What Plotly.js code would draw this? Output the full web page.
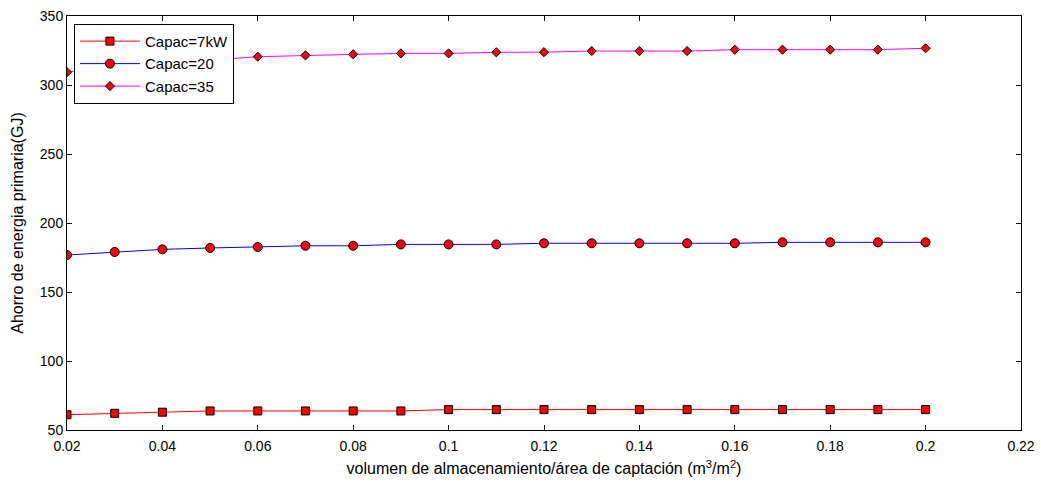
<!DOCTYPE html>
<html>
<head>
<meta charset="utf-8">
<script src="https://cdn.plot.ly/plotly-3.0.1.min.js"></script>
<style>html,body{margin:0;padding:0;background:#fff}#chart{width:1041px;height:483px}</style>
</head>
<body>
<div id="chart"></div>
<script>
const xValues = [0.02,0.03,0.04,0.05,0.06,0.07,0.08,0.09,0.10,0.11,0.12,0.13,0.14,0.15,0.16,0.17,0.18,0.19,0.20];
const capac7 = [61.1,62.1,62.9,63.8,63.8,63.8,63.8,63.8,64.8,64.8,64.8,64.8,64.8,64.8,64.8,64.8,64.8,64.8,64.8];
const capac20 = [176.8,179.0,180.9,181.9,182.6,183.5,183.5,184.5,184.5,184.5,185.3,185.3,185.3,185.3,185.3,186.0,186.0,186.0,186.0];
const capac35 = [309.3,313.5,316.5,318.0,320.5,321.5,322.2,322.9,322.9,323.7,323.8,324.6,324.6,324.6,325.6,325.6,325.6,325.6,326.6];
const seriesNames = ['Capac=7kW','Capac=20','Capac=35'];
const xTicks = [0.02,0.04,0.06,0.08,0.1,0.12,0.14,0.16,0.18,0.2,0.22];
const xTickText = ['0.02','0.04','0.06','0.08','0.1','0.12','0.14','0.16','0.18','0.2','0.22'];
const yTicks = [50,100,150,200,250,300,350];

const font = 'Liberation Sans, Arial, sans-serif';
const traces = [
  {x: xValues, y: capac7, name: seriesNames[0], mode: 'lines+markers',
   line: {color: '#ff0000', width: 1},
   marker: {symbol: 'square', size: 8, color: '#ff0000', line: {color: '#000', width: 1}}},
  {x: xValues, y: capac20, name: seriesNames[1], mode: 'lines+markers',
   line: {color: '#0000ff', width: 1},
   marker: {symbol: 'circle', size: 9, color: '#ff0000', line: {color: '#000', width: 1}}},
  {x: xValues, y: capac35, name: seriesNames[2], mode: 'lines+markers',
   line: {color: '#ff00ff', width: 1},
   marker: {symbol: 'diamond', size: 7, color: '#ff0000', line: {color: '#000', width: 1}}}
];
const axisCommon = {
  showgrid: false, zeroline: false, showline: true, mirror: 'ticks',
  linecolor: '#000', linewidth: 1, ticks: 'inside', ticklen: 5, tickcolor: '#000',
  tickfont: {family: font, size: 14, color: '#000'}
};
const layout = {
  width: 1041, height: 483,
  margin: {l: 67, r: 20, t: 16, b: 53},
  paper_bgcolor: '#fff', plot_bgcolor: '#fff',
  showlegend: true,
  legend: {x: 0.0073, y: 0.981, xanchor: 'left', yanchor: 'top',
    bgcolor: '#fff', bordercolor: '#000', borderwidth: 1,
    font: {family: font, size: 15, color: '#000'}, tracegroupgap: 0, itemwidth: 60},
  xaxis: Object.assign({}, axisCommon, {
    range: [0.02, 0.22], tickvals: xTicks, ticktext: xTickText, ticklabelstandoff: 3,
    title: {text: 'volumen de almacenamiento/área de captación (m<sup>3</sup>/m<sup>2</sup>)',
      font: {family: font, size: 16, color: '#000'}, standoff: 10}
  }),
  yaxis: Object.assign({}, axisCommon, {
    range: [50, 350], tickvals: yTicks,
    title: {text: 'Ahorro de energia primaria(GJ)', font: {family: font, size: 16, color: '#000'}, standoff: 12}
  })
};
Plotly.newPlot('chart', traces, layout, {displayModeBar: false, staticPlot: true});
</script>
</body>
</html>
